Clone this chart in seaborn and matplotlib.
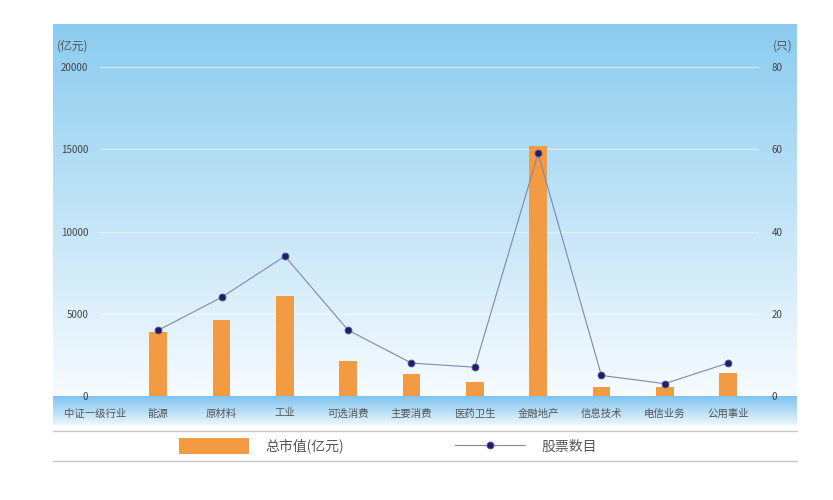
import numpy as np
import pandas as pd
import matplotlib.pyplot as plt
import seaborn as sns
from matplotlib.lines import Line2D

categories = ['中证一级行业', '能源', '原材料', '工业', '可选消费', '主要消费',
              '医药卫生', '金融地产', '信息技术', '电信业务', '公用事业']
industries = categories[1:]
market_cap = [3900, 4600, 6100, 2120, 1310, 870, 15200, 545, 560, 1410]
stock_count = [16, 24, 34, 16, 8, 7, 59, 5, 3, 8]
left_ticks = [0, 5000, 10000, 15000, 20000]
right_ticks = [0, 20, 40, 60, 80]

sns.set_theme(style='white')
plt.rcParams['font.family'] = ['Noto Sans CJK SC', 'DejaVu Sans']

W, H = 833, 500


def fx(px):
    return px / W


def fy(py):
    return 1 - py / H


fig = plt.figure(figsize=(8.33, 5), dpi=100)

# background gradient (plot area + label band)
bg = fig.add_axes([fx(53), fy(425), 744 / W, (425 - 24) / H])
bg.axis('off')
top_c = np.array([0.54, 0.80, 0.94])
bot_c = np.array([0.97, 0.985, 1.0])
band_top = np.array([0.50, 0.77, 0.94])
band_bot = np.array([0.92, 0.965, 0.99])
t1 = np.linspace(0, 1, 396 - 24)[:, None]
t2 = np.linspace(0, 1, 425 - 396)[:, None]
upper = top_c * (1 - t1) + bot_c * t1
band = band_top * (1 - t2) + band_bot * t2
img = np.vstack([upper, band])[:, None, :]
bg.imshow(img, aspect='auto', extent=[0, 1, 0, 1])

ax = fig.add_axes([fx(53), fy(396), 744 / W, (396 - 24) / H])
ax.patch.set_alpha(0)
ymax = (396 - 24) / 329 * 20000

df = pd.DataFrame({'industry': industries, 'cap': market_cap})
sns.barplot(data=df, x='industry', y='cap', order=categories, width=0.28,
            color='#f39b42', saturation=1, linewidth=0, ax=ax, label='总市值(亿元)')
for v in left_ticks[1:]:
    ax.axhline(v, xmin=0.063, xmax=0.948, color='white', lw=1, alpha=0.5, zorder=0)

ax.set_ylim(0, ymax)
ax.set_xlim(-0.663, 11.09)
ax.set_yticks(left_ticks)
ax.set_yticklabels([str(v) for v in left_ticks])
ax.set_xticks(range(len(categories)))
ax.set_xticklabels(categories)
ax.set_xlabel('')
ax.set_ylabel('')
ax.tick_params(axis='y', length=0, pad=-25.5, labelsize=7, labelcolor='#444444')
ax.tick_params(axis='x', length=0, pad=9, labelsize=7.5, labelcolor='#555555')
for s in ax.spines.values():
    s.set_visible(False)

ax2 = ax.twinx()
positions = [categories.index(c) for c in industries]
sns.lineplot(x=positions, y=stock_count, ax=ax2, marker='o', markersize=5,
             color='#8088a8', lw=0.8, markerfacecolor='#1f1f66',
             markeredgecolor='#5a5a9a', markeredgewidth=0.6, label='股票数目')
ax2.set_ylim(0, ymax / 250)
ax2.set_xlim(-0.663, 11.09)
ax2.set_yticks(right_ticks)
ax2.set_yticklabels([str(v) for v in right_ticks])
ax2.set_ylabel('')
ax2.tick_params(axis='y', length=0, pad=-18, labelsize=7, labelcolor='#444444')
for s in ax2.spines.values():
    s.set_visible(False)

h1, l1 = ax.get_legend_handles_labels()
h2, l2 = ax2.get_legend_handles_labels()
for a in (ax, ax2):
    if a.get_legend() is not None:
        a.get_legend().remove()

fig.text(fx(57), fy(46), '(亿元)', ha='left', va='center', fontsize=8.5, color='#555555')
fig.text(fx(793), fy(46), '(只)', ha='right', va='center', fontsize=8.5, color='#555555')

fig.legend(h1 + h2, l1 + l2, loc='center', bbox_to_anchor=(fx(388), fy(446)),
           ncol=2, frameon=False, fontsize=10, handlelength=5, handleheight=1.3,
           handletextpad=1.2, columnspacing=8, labelcolor='#555555')

for yy in (431, 461):
    fig.add_artist(Line2D([fx(53), fx(797)], [fy(yy), fy(yy)], color='#c8c8c8', lw=1))

fig.savefig('out.png', dpi=100)
